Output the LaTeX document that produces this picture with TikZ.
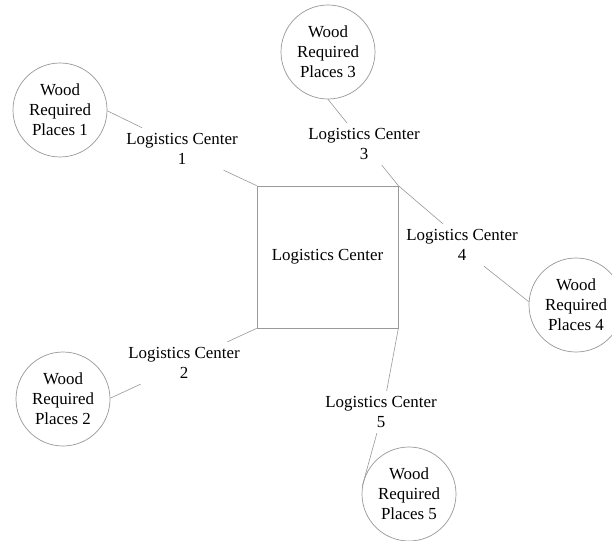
\documentclass[tikz,border=0pt]{standalone}
\usepackage{fontspec}
\setmainfont{Liberation Serif}
\begin{document}
\begin{tikzpicture}[x=1pt,y=-1pt,
  every node/.style={font=\fontsize{16.9}{20}\selectfont},
  place/.style={circle,draw=gray!80,line width=0.7pt,minimum size=94pt,inner sep=0pt,align=center},
  lab/.style={align=center,inner sep=1pt,minimum width=112pt,minimum height=42pt},
  hub/.style={draw=gray!80,line width=0.7pt,minimum width=141pt,minimum height=142pt,inner sep=0pt},
  conn/.style={draw=gray!80,line width=0.6pt}]
\useasboundingbox (0,0) rectangle (612,540);
\fill[white] (0,0) rectangle (612,540);
\node[hub] (sq) at (327.5,257) {Logistics Center};
\node[place] (c1) at (60,110) {Wood\\Required\\Places 1};
\node[place] (c2) at (63,399) {Wood\\Required\\Places 2};
\node[place] (c3) at (328,52) {Wood\\Required\\Places 3};
\node[place] (c4) at (576,305) {Wood\\Required\\Places 4};
\node[place] (c5) at (409,494) {Wood\\Required\\Places 5};
\node[lab] (l1) at (182,149) {Logistics Center\\1};
\node[lab] (l2) at (184,363) {Logistics Center\\2};
\node[lab] (l3) at (364,144) {Logistics Center\\3};
\node[lab] (l4) at (462,245) {Logistics Center\\4};
\node[lab] (l5) at (381,412) {Logistics Center\\5};
\draw[conn] (c1.-1) -- (l1.152);
\draw[conn] (l1.-27) -- (sq.north west);
\draw[conn] (c3.south) -- (l3.129);
\draw[conn] (l3.-50) -- (sq.north east);
\draw[conn] (sq.north east) -- (l4.132);
\draw[conn] (l4.-44) -- (c4.176);
\draw[conn] (sq.south west) -- (l2.26);
\draw[conn] (l2.-154) -- (c2.1);
\draw[conn] (sq.south east) -- (l5.75);
\draw[conn] (l5.-101) -- (c5.170);
\end{tikzpicture}
\end{document}
